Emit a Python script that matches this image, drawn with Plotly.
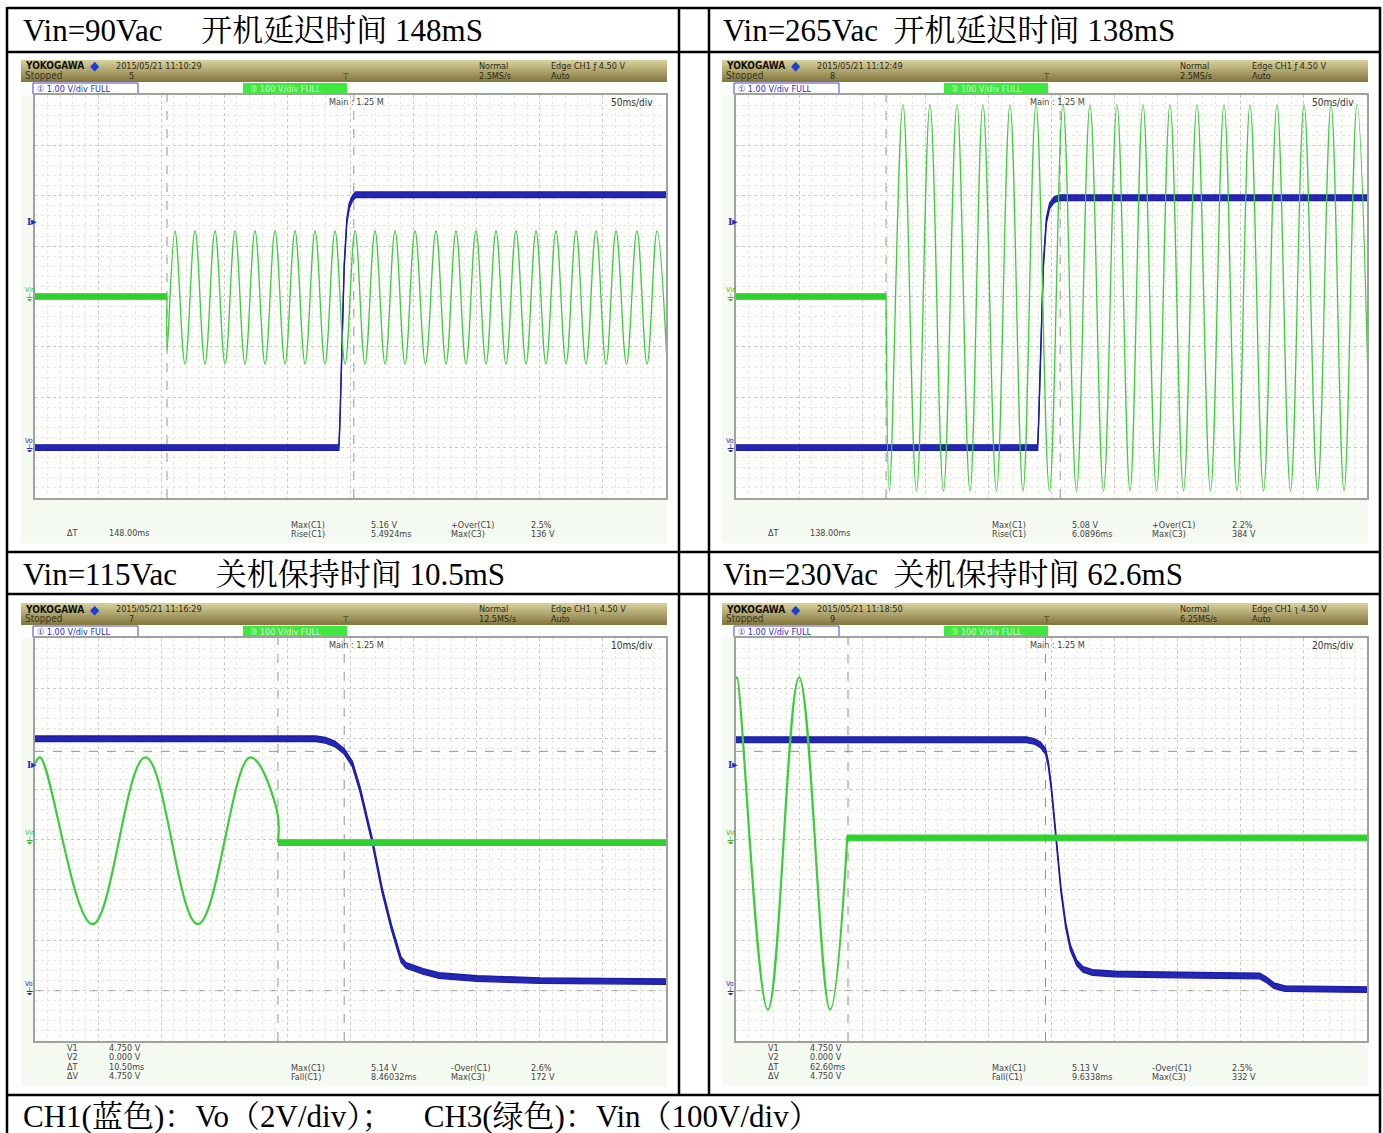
import plotly.graph_objects as go

W, H = 1383, 1133

# ---------------- table texts ----------------
cell_titles = [
    "Vin=90Vac\u00a0\u00a0\u00a0\u00a0\u00a0开机延迟时间 148mS",
    "Vin=265Vac\u00a0\u00a0开机延迟时间 138mS",
    "Vin=115Vac\u00a0\u00a0\u00a0\u00a0\u00a0关机保持时间 10.5mS",
    "Vin=230Vac\u00a0\u00a0关机保持时间 62.6mS",
]
caption_text = "CH1(蓝色)：Vo（2V/div）；\u00a0\u00a0\u00a0\u00a0CH3(绿色)：Vin（100V/div）"

# ---------------- scope settings ----------------
timebase_ms = [50, 50, 10, 20]
timebase_label = ["50ms/div", "50ms/div", "10ms/div", "20ms/div"]
clock_text = ["2015/05/21 11:10:29", "2015/05/21 11:12:49",
              "2015/05/21 11:16:29", "2015/05/21 11:18:50"]
acq_count = ["5", "8", "7", "9"]
sample_rate = ["2.5MS/s", "2.5MS/s", "12.5MS/s", "6.25MS/s"]
trigger_text = ["Edge CH1 ƒ 4.50 V", "Edge CH1 ƒ 4.50 V",
                "Edge CH1 ʅ 4.50 V", "Edge CH1 ʅ 4.50 V"]
trigger_level_v = 4.5

# cursor readouts and automatic measurements
cursor_names = [["ΔT"], ["ΔT"], ["V1", "V2", "ΔT", "ΔV"], ["V1", "V2", "ΔT", "ΔV"]]
cursor_values = [["148.00ms"], ["138.00ms"],
                 ["4.750 V", "0.000 V", "10.50ms", "4.750 V"],
                 ["4.750 V", "0.000 V", "62.60ms", "4.750 V"]]
meas_names = [["Max(C1)", "Rise(C1)", "+Over(C1)", "Max(C3)"],
              ["Max(C1)", "Rise(C1)", "+Over(C1)", "Max(C3)"],
              ["Max(C1)", "Fall(C1)", "-Over(C1)", "Max(C3)"],
              ["Max(C1)", "Fall(C1)", "-Over(C1)", "Max(C3)"]]
meas_values = [["5.16 V", "5.4924ms", "2.5%", "136 V"],
               ["5.08 V", "6.0896ms", "2.2%", "384 V"],
               ["5.14 V", "8.46032ms", "2.6%", "172 V"],
               ["5.13 V", "9.6338ms", "2.5%", "332 V"]]

# time cursors (ms from left edge of screen) and voltage cursors (V, CH1)
t_cursors = [[104.6, 252.6], [118.9, 256.9], [38.5, 49.0], [35.5, 98.1]]
v_cursors = [[], [], [4.75, 0.0], [4.75, 0.0]]

# ---------------- CH1 : Vo (V) ----------------
vo1_t = [0, 240.8, 241.6, 243.2, 245.0, 247.1, 249.0, 251.5, 254.0, 500]
vo1_v = [0.0, 0.0, 0.5, 2.0, 3.6, 4.5, 4.8, 4.95, 5.02, 5.02]

vo2_t = [0, 239.0, 239.8, 241.5, 243.5, 245.9, 248.5, 252.0, 256.0, 500]
vo2_v = [0.0, 0.0, 0.5, 2.0, 3.6, 4.5, 4.8, 4.92, 4.96, 4.96]

vo3_t = [0, 44.5, 46.0, 47.5, 49.0, 50.3, 51.5, 53.4, 55.0, 56.5, 58.0, 58.8,
         61.5, 64.0, 70.0, 80.0, 100.0]
vo3_v = [5.0, 5.0, 4.97, 4.9, 4.75, 4.5, 4.0, 3.0, 2.0, 1.25, 0.62, 0.5,
         0.38, 0.3, 0.24, 0.2, 0.18]

vo4_t = [0, 92.0, 94.5, 96.5, 98.1, 99.0, 100.0, 101.5, 103.0, 104.5, 106.0, 108.0,
         110.0, 113.0, 120.0, 140.0, 166.0, 168.0, 170.5, 174.0, 200.0]
vo4_v = [4.98, 4.98, 4.95, 4.88, 4.75, 4.5, 4.0, 3.0, 2.0, 1.3, 0.85, 0.55,
         0.42, 0.36, 0.33, 0.31, 0.29, 0.22, 0.10, 0.04, 0.02]

# ---------------- CH3 : Vin (V) ----------------
# flat part (no AC) and AC part given as successive extrema
vin1_flat_t = [0, 104.6]
vin1_flat_v = [0, 0]
vin1_ac_t = [104.6, 104.7,
             110.9, 118.9, 126.8, 134.7, 142.6, 150.6, 158.5, 166.4, 174.3, 182.3,
             190.2, 198.1, 206.0, 214.0, 221.9, 229.8, 237.7, 245.7, 253.6, 261.5,
             269.4, 277.4, 285.3, 293.2, 301.1, 309.4, 317.7, 325.7, 333.6, 341.5,
             349.4, 357.4, 365.3, 373.2, 381.1, 389.1, 397.0, 404.9, 412.8, 420.8,
             428.7, 436.6, 444.5, 452.5, 460.4, 468.7, 477.0, 485.0, 492.9, 500.8]
vin1_ac_v = [0, -106,
             130, -134, 130, -134, 130, -134, 130, -134, 130, -134,
             130, -134, 130, -134, 130, -134, 130, -134, 130, -134,
             130, -134, 130, -134, 130, -134, 130, -134, 130, -134,
             130, -134, 130, -134, 130, -134, 130, -134, 130, -134,
             130, -134, 130, -134, 130, -134, 130, -134, 130, -134]

vin2_flat_t = [0, 118.9]
vin2_flat_v = [0, 0]
vin2_ac_t = [118.9, 121.6,
             132.3, 143.0, 153.7, 164.4, 175.1, 185.4, 195.7, 206.4, 217.1, 227.4,
             237.7, 248.4, 259.1, 269.8, 280.5, 291.2, 301.9, 312.2, 322.5, 333.2,
             343.9, 354.6, 365.3, 376.0, 386.7, 397.0, 407.3, 418.0, 428.7, 439.4,
             450.1, 460.8, 471.5, 481.8, 492.1, 502.8]
vin2_ac_v = [0, -386,
             381, -386, 381, -386, 381, -386, 381, -386, 381, -386,
             381, -386, 381, -386, 381, -386, 381, -386, 381, -386,
             381, -386, 381, -386, 381, -386, 381, -386, 381, -386,
             381, -386, 381, -386, 381, -386]

vin3_ac_t = [0.0, 0.8, 9.1, 17.5, 25.8, 34.1, 38.3, 38.5]
vin3_ac_v = [150, 163, -168, 163, -168, 163, 60, -6]
vin3_flat_t = [38.5, 100.0]
vin3_flat_v = [-6, -6]

vin4_ac_t = [0.0, 0.3, 10.1, 20.0, 29.8, 35.3]
vin4_ac_v = [318, 322, -338, 322, -338, 8]
vin4_flat_t = [35.3, 200.0]
vin4_flat_v = [3, 3]

scopes = [
    dict(vo=(vo1_t, vo1_v), ac=(vin1_ac_t, vin1_ac_v), flat=(vin1_flat_t, vin1_flat_v), ac_w=1.3),
    dict(vo=(vo2_t, vo2_v), ac=(vin2_ac_t, vin2_ac_v), flat=(vin2_flat_t, vin2_flat_v), ac_w=1.3),
    dict(vo=(vo3_t, vo3_v), ac=(vin3_ac_t, vin3_ac_v), flat=(vin3_flat_t, vin3_flat_v), ac_w=2.2),
    dict(vo=(vo4_t, vo4_v), ac=(vin4_ac_t, vin4_ac_v), flat=(vin4_flat_t, vin4_flat_v), ac_w=2.2),
]

# ---------------- drawing helpers ----------------
SCOPE_FONT = "Liberation Sans Narrow, DejaVu Sans Condensed, Liberation Sans, sans-serif"
TABLE_FONT = "Liberation Serif, Noto Serif CJK SC, Noto Sans CJK SC, serif"
BLUE = "#1d1da6"
GREEN = "#2fcf2f"

ORIGINS = [(21, 60), (722, 60), (21, 603), (722, 603)]
IMG_W, IMG_H = 646, 483


def fx(x):
    return x / W


def fy(y):
    return 1 - y / H


shapes = []
annotations = []


def rect(x0, y0, x1, y1, fill, line=None, width=0, layer="below"):
    shapes.append(dict(type="rect", xref="paper", yref="paper",
                       x0=fx(x0), x1=fx(x1), y0=fy(y1), y1=fy(y0),
                       fillcolor=fill, line=dict(color=line or fill, width=width),
                       layer=layer))


def hline(y, x0, x1, color="black", width=2.5):
    shapes.append(dict(type="line", xref="paper", yref="paper",
                       x0=fx(x0), x1=fx(x1), y0=fy(y), y1=fy(y),
                       line=dict(color=color, width=width), layer="above"))


def vline(x, y0, y1, color="black", width=2.5):
    shapes.append(dict(type="line", xref="paper", yref="paper",
                       x0=fx(x), x1=fx(x), y0=fy(y0), y1=fy(y1),
                       line=dict(color=color, width=width), layer="above"))


def label(x, y, text, size=10, color="#3a3a3a", family=SCOPE_FONT, anchor="left"):
    annotations.append(dict(xref="paper", yref="paper", x=fx(x), y=fy(y), text=text,
                            showarrow=False, xanchor=anchor, yanchor="middle",
                            borderpad=0,
                            font=dict(size=size, color=color, family=family)))


def mix(c0, c1, f):
    return "rgb(%d,%d,%d)" % tuple(round(a + (b - a) * f) for a, b in zip(c0, c1))


fig = go.Figure()
layout_axes = {}

for k, sc in enumerate(scopes):
    X0, Y0 = ORIGINS[k]
    gx0, gx1 = X0 + 14, X0 + 645
    gy0, gy1 = Y0 + 35, Y0 + 438
    tdiv = timebase_ms[k]

    # screen background, header band, channel strip, graticule area
    rect(X0, Y0, X0 + IMG_W, Y0 + IMG_H, "#f4f9f1")
    n_band = 11
    for i in range(n_band):
        rect(X0, Y0 + 2 * i, X0 + IMG_W, Y0 + 2 * i + 2,
             mix((214, 206, 152), (134, 121, 66), i / (n_band - 1)))
    rect(X0, Y0 + 22, X0 + IMG_W, Y0 + 35, "#fbfdfa")
    rect(gx0, gy0, gx1, gy1, "#fdfefc")
    rect(X0 + 12, Y0 + 23, X0 + 117, Y0 + 34, "white", line="#4545d0", width=1)
    rect(X0 + 222, Y0 + 23, X0 + 326, Y0 + 34, "#3ee83e")

    # header texts
    label(X0 + 3, Y0 + 6, "<b>YOKOGAWA</b>", size=10, color="#111")
    label(X0 + 68, Y0 + 6, "◆", size=13, color="#1f3fd0")
    label(X0 + 94, Y0 + 6, clock_text[k], size=9, color="#2a2a1a")
    label(X0 + 3, Y0 + 16, "Stopped", size=10, color="#3a3520")
    label(X0 + 107, Y0 + 16, acq_count[k], size=9, color="#2a2a1a")
    label(X0 + 320, Y0 + 17, "⊤", size=9, color="#2a2a1a")
    label(X0 + 457, Y0 + 6, "Normal", size=9, color="#2a2a1a")
    label(X0 + 457, Y0 + 16, sample_rate[k], size=9, color="#2a2a1a")
    label(X0 + 529, Y0 + 6, trigger_text[k], size=9, color="#2a2a1a")
    label(X0 + 529, Y0 + 16, "Auto", size=9, color="#2a2a1a")
    label(X0 + 15, Y0 + 28.5, "① 1.00 V/div FULL", size=9, color="#2b2bd0")
    label(X0 + 228, Y0 + 28.5, "③ 100 V/div FULL", size=9, color="#d8ffd8")
    label(X0 + 335, Y0 + 42, "Main : 1.25 M", size=9, color="#444", anchor="center")
    label(X0 + 633, Y0 + 42, timebase_label[k], size=10, color="#333", anchor="right")

    # measurement area
    names, vals = cursor_names[k], cursor_values[k]
    n = len(names)
    for i in range(n):
        yy = Y0 + 473 - 9.3 * (n - 1 - i)
        label(X0 + 45, yy, names[i], size=9, color="#444")
        label(X0 + 87, yy, vals[i], size=9, color="#444")
    for i in range(2):
        yy = Y0 + 465 + 9 * i
        label(X0 + 269, yy, meas_names[k][i], size=9, color="#444")
        label(X0 + 349, yy, meas_values[k][i], size=9, color="#444")
        label(X0 + 429, yy, meas_names[k][i + 2], size=9, color="#444")
        label(X0 + 509, yy, meas_values[k][i + 2], size=9, color="#444")

    # axes: CH1 on the primary y axis (1 V/div), CH3 overlaid (100 V/div)
    xn = "x" if k == 0 else f"x{k + 1}"
    y1n = "y" if k == 0 else f"y{2 * k + 1}"
    y2n = f"y{2 * k + 2}"
    xkey = "xaxis" if k == 0 else f"xaxis{k + 1}"
    y1key = "yaxis" if k == 0 else f"yaxis{2 * k + 1}"
    y2key = f"yaxis{2 * k + 2}"

    grid_common = dict(showgrid=True, gridcolor="#c6cbc6", griddash="dot", gridwidth=1,
                       showticklabels=False, ticks="", zeroline=False,
                       showline=True, linecolor="#9ea39e", linewidth=1.5, mirror=True,
                       fixedrange=True)
    layout_axes[xkey] = dict(domain=[fx(gx0), fx(gx1)], range=[0, 10 * tdiv],
                             tick0=0, dtick=tdiv, anchor=y1n,
                             minor=dict(dtick=tdiv / 5, showgrid=True,
                                        gridcolor="#e3e8e3", gridwidth=1),
                             **grid_common)
    layout_axes[y1key] = dict(domain=[fy(gy1), fy(gy0)], range=[-1, 7],
                              tick0=0, dtick=1, anchor=xn,
                              minor=dict(dtick=0.2, showgrid=True,
                                         gridcolor="#e3e8e3", gridwidth=1),
                              **grid_common)
    layout_axes[y2key] = dict(overlaying=y1n, anchor=xn, range=[-400, 400],
                              visible=False, fixedrange=True)

    # cursors
    for tc in t_cursors[k]:
        shapes.append(dict(type="line", xref=xn, yref=f"{y1n} domain", x0=tc, x1=tc,
                           y0=0, y1=1, line=dict(color="#8f948f", width=1, dash="dash"),
                           layer="below"))
    for vc in v_cursors[k]:
        shapes.append(dict(type="line", xref=f"{xn} domain", yref=y1n, x0=0, x1=1,
                           y0=vc, y1=vc, line=dict(color="#8f948f", width=1, dash="dash"),
                           layer="below"))

    # left-side markers
    annotations.append(dict(xref="paper", yref=y1n, x=fx(X0 + 4), y=trigger_level_v,
                            text="<b>I</b>▸", showarrow=False, xanchor="left",
                            font=dict(size=11, color="#2b2bc0", family="Liberation Serif")))
    annotations.append(dict(xref="paper", yref=y2n, x=fx(X0 + 2), y=0, yshift=7,
                            text="Vin", showarrow=False, xanchor="left",
                            font=dict(size=7, color="#35b835", family=SCOPE_FONT)))
    annotations.append(dict(xref="paper", yref=y2n, x=fx(X0 + 3), y=0, yshift=-1,
                            text="⏚", showarrow=False, xanchor="left",
                            font=dict(size=10, color="#35b835", family="DejaVu Sans")))
    annotations.append(dict(xref="paper", yref=y1n, x=fx(X0 + 2), y=0, yshift=7,
                            text="Vo", showarrow=False, xanchor="left",
                            font=dict(size=7, color="#2b2bc0", family=SCOPE_FONT)))
    annotations.append(dict(xref="paper", yref=y1n, x=fx(X0 + 3), y=0, yshift=-1,
                            text="⏚", showarrow=False, xanchor="left",
                            font=dict(size=10, color="#2b2bc0", family="DejaVu Sans")))

    # CH3 Vin : AC part (smooth through extrema) and flat noise band
    at, av = sc["ac"]
    fig.add_trace(go.Scatter(x=at, y=av, xaxis=xn, yaxis=y2n, mode="lines",
                             line=dict(color="#3ccc3c", width=sc["ac_w"],
                                       shape="spline", smoothing=1.1),
                             hoverinfo="skip", showlegend=False))
    ft, fv = sc["flat"]
    fig.add_trace(go.Scatter(x=ft, y=[v - 5.5 for v in fv], xaxis=xn, yaxis=y2n,
                             mode="lines", line=dict(color=GREEN, width=1.2),
                             hoverinfo="skip", showlegend=False))
    fig.add_trace(go.Scatter(x=ft, y=[v + 5.5 for v in fv], xaxis=xn, yaxis=y2n,
                             mode="lines", line=dict(color=GREEN, width=1.2),
                             fill="tonexty", fillcolor=GREEN,
                             hoverinfo="skip", showlegend=False))

    # CH1 Vo : noisy band
    vt, vv = sc["vo"]
    fig.add_trace(go.Scatter(x=vt, y=[v - 0.055 for v in vv], xaxis=xn, yaxis=y1n,
                             mode="lines", line=dict(color=BLUE, width=1.3),
                             hoverinfo="skip", showlegend=False))
    fig.add_trace(go.Scatter(x=vt, y=[v + 0.055 for v in vv], xaxis=xn, yaxis=y1n,
                             mode="lines", line=dict(color=BLUE, width=1.3),
                             fill="tonexty", fillcolor="#2626b4",
                             hoverinfo="skip", showlegend=False))

# ---------------- table frame and cell texts ----------------
for y in (8, 52, 552, 594, 1095):
    hline(y, 7, 1381)
vline(7, 7, 1134)
vline(1380, 7, 1134)
vline(679, 7, 1096)
vline(709, 7, 1096)

title_pos = [(22, 30), (722, 30), (22, 574), (722, 574)]
for (tx, ty), txt in zip(title_pos, cell_titles):
    label(tx, ty, txt, size=31, color="black", family=TABLE_FONT)
label(22, 1116, caption_text, size=31, color="black", family=TABLE_FONT)

fig.update_layout(
    width=W, height=H, margin=dict(l=0, r=0, t=0, b=0),
    paper_bgcolor="white", plot_bgcolor="rgba(0,0,0,0)",
    shapes=shapes, annotations=annotations, showlegend=False,
    **layout_axes,
)

fig.write_html("out.html")
